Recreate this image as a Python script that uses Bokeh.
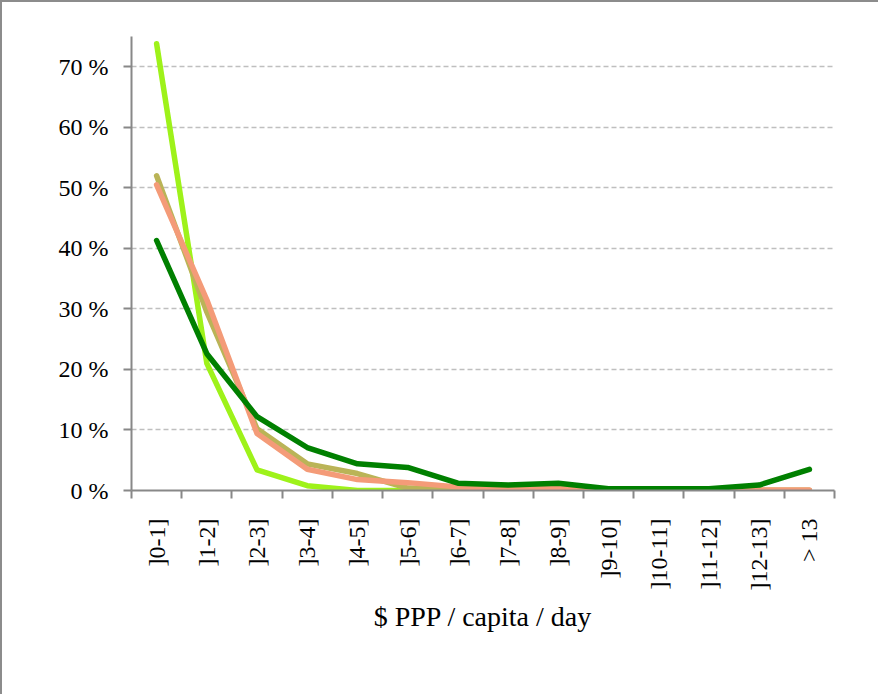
from bokeh.plotting import figure
from bokeh.models import FixedTicker, Legend, LegendItem, ColumnDataSource
from bokeh.layouts import column
from bokeh.embed import file_html
from bokeh.resources import INLINE
import math

categories = ["]0-1]", "]1-2]", "]2-3]", "]3-4]", "]4-5]", "]5-6]", "]6-7]",
              "]7-8]", "]8-9]", "]9-10]", "]10-11]", "]11-12]", "]12-13]", "> 13"]
mali = [73.8, 21.0, 3.4, 0.8, 0.0, 0.0, 0.0, 0.0, 0.0, 0.0, 0.0, 0.0, 0.0, 0.0]
senegal = [52.0, 29.5, 10.2, 4.4, 2.8, 0.4, 0.2, 0.1, 0.2, 0.0, 0.0, 0.0, 0.0, 0.0]
madagascar = [50.5, 31.5, 9.4, 3.5, 1.8, 1.3, 0.6, 0.3, 0.3, 0.1, 0.1, 0.1, 0.1, 0.1]
kenya = [41.3, 22.6, 12.2, 7.1, 4.4, 3.8, 1.2, 0.9, 1.2, 0.3, 0.3, 0.3, 0.9, 3.5]
series_names = ["Mali", "Senegal", "Madagascar", "Kenya"]
series_colors = ["#9ef21a", "#bab457", "#f49b78", "#008000"]
y_ticks = [0, 10, 20, 30, 40, 50, 60, 70]
x_title = "$ PPP / capita / day"

FONT = "Liberation Serif"
AXIS_COLOR = "#888888"

xs = [i + 0.5 for i in range(len(categories))]

p = figure(frame_width=703, frame_height=454, x_range=(0, len(categories)), y_range=(0, 75),
           output_backend="svg", toolbar_location=None,
           min_border_left=129, min_border_right=44, min_border_top=34, min_border_bottom=0)
p.outline_line_color = None
p.background_fill_color = "white"
p.border_fill_color = "white"

items = []
for name, vals, col in zip(series_names, [mali, senegal, madagascar, kenya], series_colors):
    src = ColumnDataSource(dict(x=xs, y=vals))
    r = p.line("x", "y", source=src, line_color=col, line_width=5.5, line_join="round", line_cap="round")
    items.append(LegendItem(label=name, renderers=[r]))

# Y axis
p.yaxis.ticker = FixedTicker(ticks=y_ticks)
p.yaxis.major_label_overrides = {t: f"{t} %" for t in y_ticks}
p.yaxis.minor_tick_line_color = None
p.yaxis.major_tick_out = 8
p.yaxis.major_tick_in = 0
p.yaxis.axis_line_color = AXIS_COLOR
p.yaxis.axis_line_width = 2
p.yaxis.major_tick_line_color = AXIS_COLOR
p.yaxis.major_tick_line_width = 2
p.yaxis.major_label_text_font = FONT
p.yaxis.major_label_text_font_size = "24px"
p.yaxis.major_label_text_color = "black"
p.yaxis.major_label_standoff = 15

# X axis
p.xaxis.ticker = FixedTicker(ticks=xs, minor_ticks=list(range(len(categories) + 1)))
p.xaxis.major_label_overrides = {x: c for x, c in zip(xs, categories)}
p.xaxis.major_label_orientation = math.pi / 2
p.xaxis.major_tick_out = 0
p.xaxis.major_tick_in = 0
p.xaxis.minor_tick_out = 8
p.xaxis.minor_tick_in = 0
p.xaxis.minor_tick_line_color = AXIS_COLOR
p.xaxis.minor_tick_line_width = 2
p.xaxis.axis_line_color = AXIS_COLOR
p.xaxis.axis_line_width = 2
p.xaxis.major_label_text_font = FONT
p.xaxis.major_label_text_font_size = "24px"
p.xaxis.major_label_text_color = "black"
p.xaxis.major_label_standoff = 20
p.xaxis.axis_label = x_title
p.xaxis.axis_label_text_font = FONT
p.xaxis.axis_label_text_font_size = "28px"
p.xaxis.axis_label_text_font_style = "normal"
p.xaxis.axis_label_text_color = "black"
p.xaxis.axis_label_standoff = 8

p.xgrid.grid_line_color = None
p.ygrid.ticker = FixedTicker(ticks=y_ticks[1:])
p.ygrid.grid_line_color = "#bfbfbf"
p.ygrid.grid_line_width = 1.5
p.ygrid.grid_line_dash = "5 3"

legend = Legend(items=items, orientation="horizontal", location=(6, 0),
                label_text_font=FONT, label_text_font_size="27px",
                label_text_color="black", glyph_width=47, glyph_height=20,
                label_standoff=5, spacing=21, padding=0, margin=14,
                border_line_color=None, background_fill_alpha=0)
p.add_layout(legend, "below")

layout = column(p, styles={"border-left": "2px solid #8c8c8c", "border-top": "2px solid #8c8c8c"})
open("out.html", "w").write(file_html(layout, INLINE))
